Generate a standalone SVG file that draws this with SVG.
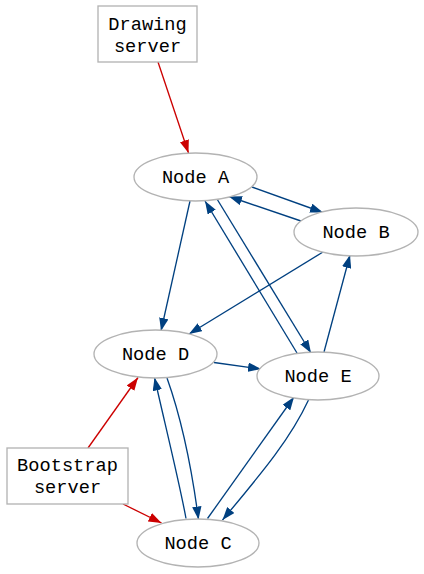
<svg xmlns="http://www.w3.org/2000/svg" width="424" height="574" viewBox="0 0 424 574">
<style>
.nd ellipse, .nd rect { fill: #ffffff; stroke: #b3b3b3; stroke-width: 1.33; }
.nd text { font-family: "Liberation Mono", "Courier New", monospace; font-size: 18.67px; fill: #000000; text-anchor: middle; }
.eb { fill: none; stroke: #004080; stroke-width: 1.33; marker-end: url(#ab); }
.er { fill: none; stroke: #cc0000; stroke-width: 1.33; marker-end: url(#ar); }
</style>
<defs>
<marker id="ab" viewBox="0 0 13 9.4" markerUnits="userSpaceOnUse" markerWidth="13" markerHeight="9.4" refX="13" refY="4.7" orient="auto">
<path d="M0,0 L13,4.7 L0,9.4 z" fill="#004080"/>
</marker>
<marker id="ar" viewBox="0 0 13 9.4" markerUnits="userSpaceOnUse" markerWidth="13" markerHeight="9.4" refX="13" refY="4.7" orient="auto">
<path d="M0,0 L13,4.7 L0,9.4 z" fill="#cc0000"/>
</marker>
</defs>
<rect width="424" height="574" fill="#ffffff"/>
<g id="connectors">
<path class="er" d="M158,62 L188.5,153"/>
<path class="eb" d="M252,187 L323,212.5"/>
<path class="eb" d="M301,221 L229,196.5"/>
<path class="eb" d="M190,201 L161,331"/>
<path class="eb" d="M323,252 L189,334"/>
<path class="eb" d="M217,199 L311,353"/>
<path class="eb" d="M297,353 L205,201"/>
<path class="eb" d="M324,352 L350,255"/>
<path class="eb" d="M214,362.5 L261,369"/>
<path class="eb" d="M167,378 C182,420 192,470 198.5,519.5"/>
<path class="eb" d="M186,518.5 C180,485 164,420 154.5,377.5"/>
<path class="eb" d="M207.5,518.5 L294,397"/>
<path class="eb" d="M308.5,400 C290,440 260,475 222.5,520"/>
<path class="er" d="M88,448 L138,377.5"/>
<path class="er" d="M123,504 L161.5,523"/>
</g>
<g id="drawing-server" class="nd">
<rect x="98" y="6" width="99" height="56"/>
<text x="147.5" y="30">Drawing</text>
<text x="147.5" y="52">server</text>
</g>
<g id="bootstrap-server" class="nd">
<rect x="7" y="448" width="121" height="56"/>
<text x="67.5" y="471">Bootstrap</text>
<text x="67.5" y="493">server</text>
</g>
<g id="node-a" class="nd">
<ellipse cx="195.5" cy="177" rx="61.5" ry="24"/>
<text x="195.5" y="183">Node A</text>
</g>
<g id="node-b" class="nd">
<ellipse cx="356" cy="232" rx="62" ry="24"/>
<text x="356" y="238">Node B</text>
</g>
<g id="node-d" class="nd">
<ellipse cx="155.5" cy="354" rx="61.5" ry="24"/>
<text x="155.5" y="360">Node D</text>
</g>
<g id="node-e" class="nd">
<ellipse cx="318" cy="376" rx="61" ry="24"/>
<text x="318" y="382">Node E</text>
</g>
<g id="node-c" class="nd">
<ellipse cx="198" cy="543" rx="61" ry="24"/>
<text x="198" y="549">Node C</text>
</g>
</svg>
